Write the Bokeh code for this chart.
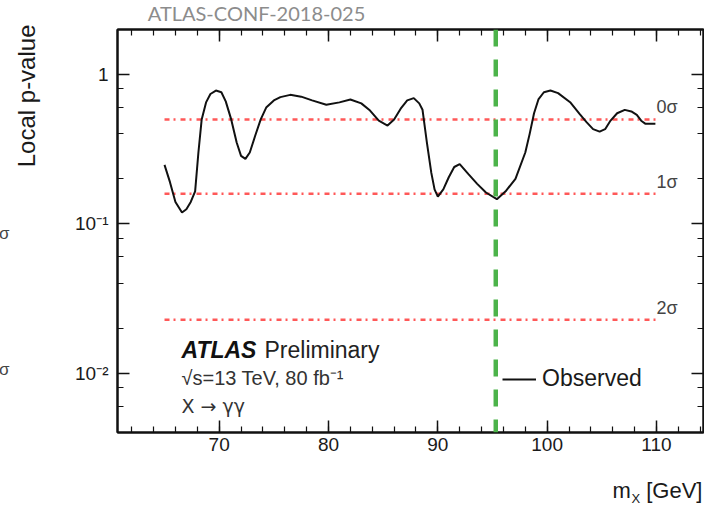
import math
from bokeh.plotting import figure
from bokeh.models import (Range1d, LogAxis, LinearAxis, Label, Legend, LegendItem, Span, Title,
                          SingleIntervalTicker, LogTicker, CustomJSTickFormatter, ColumnDataSource)
from bokeh.embed import file_html
from bokeh.resources import INLINE
from bokeh.core.properties import value

# ---------------- data ----------------
mass = [65.0, 65.5, 66.0, 66.6, 67.0, 67.4, 67.8, 68.1, 68.4, 68.8, 69.2, 69.7, 70.2, 70.6,
        71.1, 71.6, 72.0, 72.4, 72.8, 73.3, 73.8, 74.3, 75.0, 75.6, 76.5, 77.5, 78.5, 79.8,
        81.0, 82.0, 83.0, 83.8, 84.6, 85.4, 86.0, 86.6, 87.2, 87.8, 88.3, 88.6, 89.0, 89.4,
        89.7, 90.0, 90.5, 91.0, 91.5, 92.0, 92.8, 93.6, 94.4, 95.4, 96.2, 97.1, 98.0, 98.4,
        98.8, 99.2, 99.7, 100.3, 101.0, 102.1, 103.0, 103.6, 104.2, 104.8, 105.3, 105.8,
        106.4, 107.1, 107.7, 108.2, 108.6, 109.0, 109.9]
local_p = [0.248, 0.19, 0.14, 0.119, 0.125, 0.14, 0.165, 0.30, 0.50, 0.65, 0.74, 0.78, 0.76,
           0.66, 0.50, 0.35, 0.285, 0.272, 0.30, 0.39, 0.50, 0.60, 0.67, 0.705, 0.73, 0.71,
           0.67, 0.626, 0.65, 0.68, 0.64, 0.573, 0.49, 0.455, 0.50, 0.59, 0.67, 0.694, 0.64,
           0.58, 0.35, 0.22, 0.17, 0.152, 0.17, 0.205, 0.24, 0.251, 0.215, 0.185, 0.162, 0.146,
           0.165, 0.20, 0.30, 0.40, 0.55, 0.68, 0.76, 0.78, 0.75, 0.652, 0.54, 0.479, 0.43,
           0.414, 0.43, 0.491, 0.55, 0.579, 0.565, 0.536, 0.49, 0.467, 0.467]
sigma_p = [0.5, 0.1587, 0.02275]
sigma_labels = ["0σ", "1σ", "2σ"]
sigma_x_start = [65.0, 65.0, 65.0]
sigma_x_end = [110.0, 110.0, 110.0]
marker_mass = 95.3
x_range_limits = (60.7, 114.3)
y_range_limits = (0.004, 2.0)

# ---------------- layout helpers ----------------
W, H = 704, 505
FL, FR, FT, FB = 117, 703, 29, 432
X0, X1 = x_range_limits
Y0, Y1 = y_range_limits

def dx(px):
    return X0 + (px - FL) / (FR - FL) * (X1 - X0)

def dy(py):
    ly1, ly0 = math.log10(Y1), math.log10(Y0)
    return 10 ** (ly1 - (py - FT) / (FB - FT) * (ly1 - ly0))

def pick_units():
    try:
        Label(x=0, y=0, x_units="canvas", y_units="canvas", text="t")
        return "canvas"
    except Exception:
        return "screen"

UNITS = pick_units()

FONT = "Liberation Sans"
TXT = "#1a1a1a"

p = figure(width=W, height=H, x_range=Range1d(X0, X1), y_range=Range1d(Y0, Y1),
           y_axis_type="log", output_backend="svg", toolbar_location=None,
           min_border_left=FL, min_border_right=W - FR, min_border_top=FT,
           min_border_bottom=H - FB, x_axis_location=None, y_axis_location=None)
p.xgrid.visible = False
p.ygrid.visible = False
p.outline_line_color = "#111111"
p.outline_line_width = 2
p.background_fill_color = "white"
p.border_fill_color = "white"

sup = CustomJSTickFormatter(code="""
const e = Math.round(Math.log10(tick));
if (e == 0) { return "1"; }
const m = {"-": "\u207b", "0": "\u2070", "1": "\u00b9", "2": "\u00b2", "3": "\u00b3"};
return "10" + String(e).split("").map(c => m[c]).join("");
""")
blank = CustomJSTickFormatter(code="return '';")

def style_axis(ax, labels=True):
    ax.axis_line_color = "#111111"
    ax.axis_line_width = 2
    ax.major_tick_line_color = "#111111"
    ax.minor_tick_line_color = "#111111"
    ax.major_tick_line_width = 1.5
    ax.minor_tick_line_width = 1.2
    ax.major_tick_in = 12
    ax.major_tick_out = 0
    ax.minor_tick_in = 6
    ax.minor_tick_out = 0
    if labels:
        ax.major_label_text_font = FONT
        ax.major_label_text_font_size = "19px"
        ax.major_label_text_color = TXT
    else:
        ax.formatter = blank
        ax.major_label_text_font_size = "1px"
        ax.major_label_standoff = 0

xt = SingleIntervalTicker(interval=10, num_minor_ticks=5)
bottom = LinearAxis(ticker=xt)
style_axis(bottom)
bottom.major_label_standoff = 5
top = LinearAxis(ticker=xt)
style_axis(top, labels=False)
left = LogAxis(ticker=LogTicker(), formatter=sup)
style_axis(left)
left.major_label_standoff = 9
right = LogAxis(ticker=LogTicker())
style_axis(right, labels=False)
p.add_layout(bottom, "below")
p.add_layout(top, "above")
p.add_layout(left, "left")
p.add_layout(right, "right")

def side_lab(side, text, px, py, size, color=TXT, align="left", baseline="middle",
             font=FONT):
    p.add_layout(Label(x=px, y=py, x_units=UNITS, y_units=UNITS, text=text, text_font=font,
                       text_font_size=size, text_color=color, text_align=align,
                       text_baseline=baseline), side)

# cropped fragments at left edge (stacked between axis and y title)
side_lab("left", "σ", 9, 233, "17px", color="#444444", align="right")
side_lab("left", "σ", 9, 369, "17px", color="#444444", align="right")

# y-axis title
p.add_layout(Title(text="Local p-value", align="right", offset=-5, standoff=22,
                   vertical_align="top", text_font=FONT, text_font_size="24px",
                   text_font_style="normal", text_color=TXT), "left")

# top title
side_lab("above", "ATLAS-CONF-2018-025", 256, 12, "20px", color="#8c8c8c",
         align="center", font="Lato")

# x-axis title with subscript
side_lab("below", "m\u2002\u2009[GeV]", 612, 490, "22px")
side_lab("below", "X", 631, 498, "13px")

# sigma lines
sig_src = ColumnDataSource(dict(x0=sigma_x_start, x1=sigma_x_end, y=sigma_p, t=sigma_labels))
p.segment(x0="x0", x1="x1", y0="y", y1="y", source=sig_src, line_color="#ff3b3b",
          line_width=2.5, line_dash="5 4 2 5", line_alpha=0.85)
p.text(x="x1", y="y", text="t", source=sig_src, text_font=value(FONT), text_font_size="18px",
       text_color="#444444", text_baseline="middle", text_align="left", y_offset=-12, x_offset=0)

# observed curve
curve = p.line(mass, local_p, line_color="#111111", line_width=2)

# marker line
p.add_layout(Span(location=marker_mass, dimension="height", line_color="#4cb34a",
                  line_width=4.5, line_dash="17 13"))

# legend
leg = Legend(items=[LegendItem(label="Observed", renderers=[curve])], location=(385, 40),
             padding=0, margin=0, spacing=0, glyph_width=34, glyph_height=24,
             label_standoff=6, label_text_font=FONT, label_text_font_size="23px",
             label_text_color=TXT, background_fill_alpha=0, border_line_alpha=0,
             label_height=24)
p.add_layout(leg)

def lab(text, px, py, size, color=TXT, align="left", baseline="middle",
        style="normal", font=FONT):
    p.add_layout(Label(x=dx(px), y=dy(py), text=text, text_font=font,
                       text_font_size=size, text_color=color, text_align=align,
                       text_baseline=baseline, text_font_style=style))

# ATLAS text block
lab("ATLAS", 181, 349, "23px", color="#111111", style="bold italic")
lab("Preliminary", 264, 349, "23px", color="#222222")
lab("√s=13 TeV, 80 fb⁻¹", 181, 377, "20px", color="#333333")
lab("X → γγ", 181, 405, "19px", color="#333333", font="DejaVu Sans")

open("out.html", "w").write(file_html(p, INLINE))
